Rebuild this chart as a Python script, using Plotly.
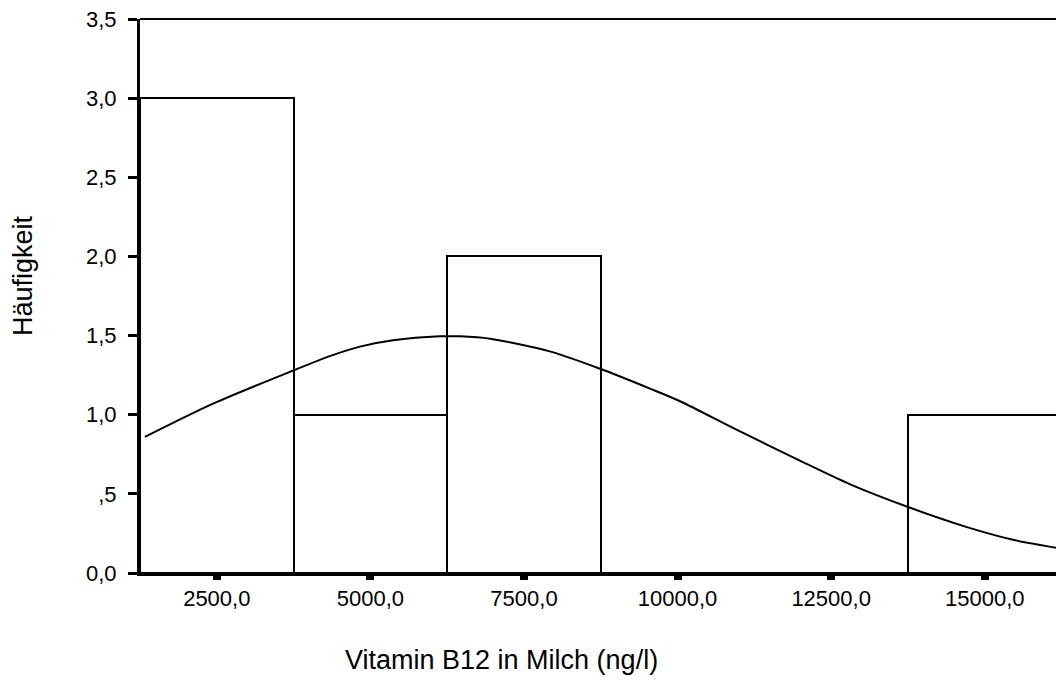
import plotly.graph_objects as go

# Histogram bins (class midpoints, ng/l) and frequencies
bin_centers = [2500, 5000, 7500, 10000, 12500, 15000]
frequencies = [3, 1, 2, 0, 0, 1]
bin_width = 2500

# Fitted normal curve, sampled along the x axis
curve_x = [1330, 2440, 3750, 4340, 4830, 5370, 6130, 6460, 6950, 7920,
           8740, 9550, 10040, 10910, 11990, 12810, 13730, 14710, 15460, 16160]
curve_y = [0.86, 1.07, 1.28, 1.37, 1.43, 1.47, 1.495, 1.495, 1.48, 1.40,
           1.29, 1.165, 1.085, 0.915, 0.71, 0.56, 0.42, 0.29, 0.21, 0.16]

x_tickvals = [2500, 5000, 7500, 10000, 12500, 15000]
x_ticktext = ["2500,0", "5000,0", "7500,0", "10000,0", "12500,0", "15000,0"]
y_tickvals = [0, 0.5, 1, 1.5, 2, 2.5, 3, 3.5]
y_ticktext = ["0,0", ",5", "1,0", "1,5", "2,0", "2,5", "3,0", "3,5"]

FONT = "Liberation Sans, Arial, Helvetica, sans-serif"

fig = go.Figure()

fig.add_trace(go.Bar(
    x=bin_centers,
    y=frequencies,
    width=bin_width,
    marker=dict(color="rgba(255,255,255,0)", line=dict(color="black", width=2)),
    hoverinfo="x+y",
))

fig.add_trace(go.Scatter(
    x=curve_x,
    y=curve_y,
    mode="lines",
    line=dict(color="black", width=2, shape="spline", smoothing=0.8),
))

fig.update_layout(
    width=1056,
    height=682,
    margin=dict(l=140, r=0, t=19, b=109),
    paper_bgcolor="white",
    plot_bgcolor="white",
    showlegend=False,
    font=dict(family=FONT, color="black", size=22),
    bargap=0,
)

fig.update_xaxes(
    range=[1250, 16160],
    tickvals=x_tickvals,
    ticktext=x_ticktext,
    ticks="outside",
    ticklen=4,
    tickwidth=8,
    tickcolor="black",
    showline=True,
    linecolor="black",
    linewidth=3,
    showgrid=False,
    zeroline=False,
    tickfont=dict(size=22, family=FONT, color="black"),
    ticklabelstandoff=0,
)

fig.update_yaxes(
    range=[0, 3.5],
    tickvals=y_tickvals,
    ticktext=y_ticktext,
    ticks="outside",
    ticklen=9,
    tickwidth=3,
    tickcolor="black",
    showline=True,
    linecolor="black",
    linewidth=3,
    showgrid=False,
    zeroline=False,
    tickfont=dict(size=22, family=FONT, color="black"),
    ticklabelstandoff=7,
)

# Top border of the plot frame
fig.add_shape(type="line", xref="paper", yref="paper", x0=0, x1=1, y0=1, y1=1,
              line=dict(color="black", width=2))

# Axis titles
fig.add_annotation(text="Häufigkeit", xref="paper", yref="paper",
                   x=-0.1277, y=0.536, showarrow=False, textangle=-90,
                   xanchor="center", yanchor="middle",
                   font=dict(size=27, family=FONT, color="black"))
fig.add_annotation(text="Vitamin B12 in Milch (ng/l)", xref="paper", yref="paper",
                   x=0.395, y=-0.157, showarrow=False,
                   xanchor="center", yanchor="middle",
                   font=dict(size=27, family=FONT, color="black"))

fig.write_html("out.html")
